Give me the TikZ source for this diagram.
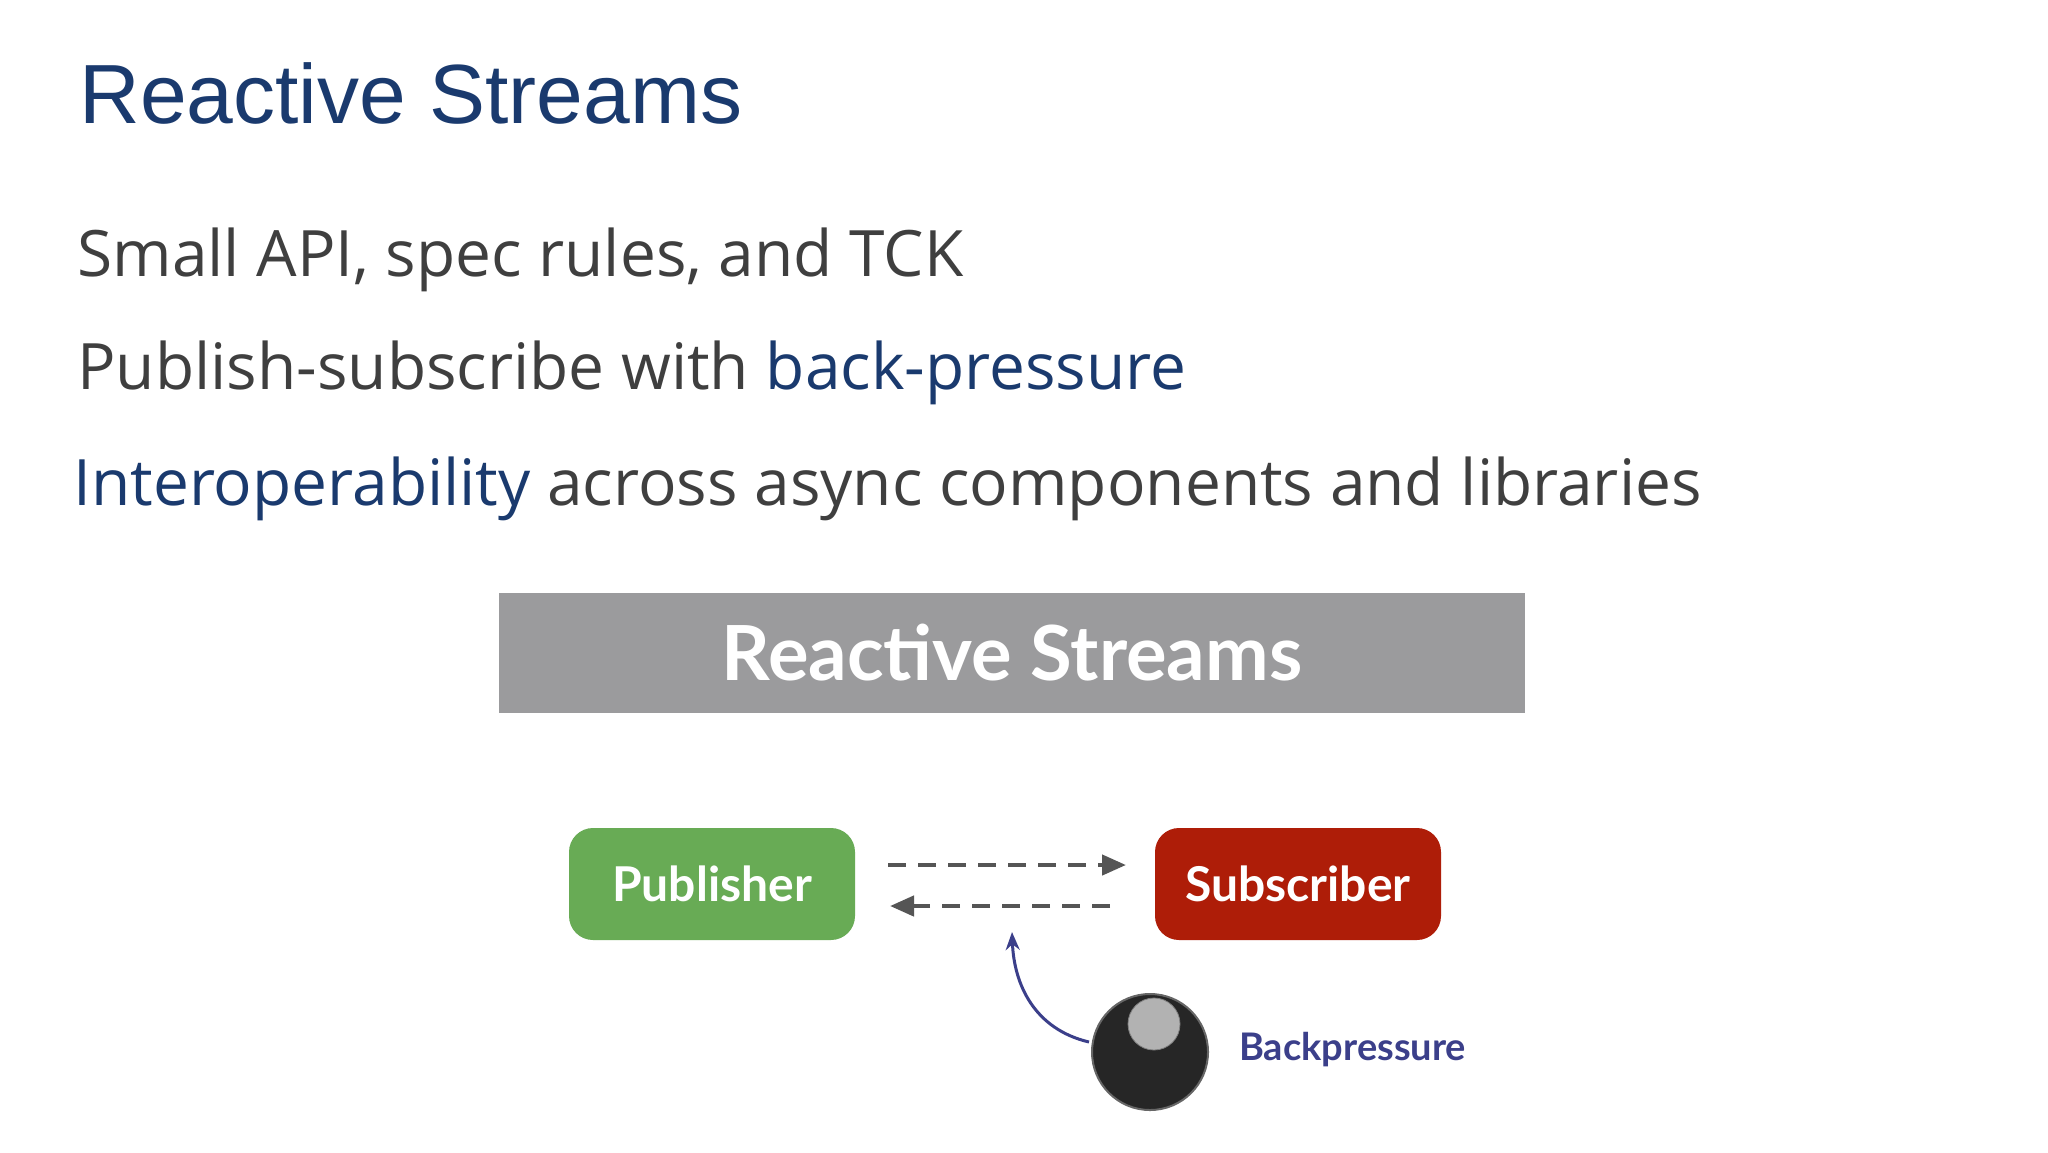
\documentclass[tikz,border=0pt]{standalone}
\usepackage{fontspec}
\setmainfont{Liberation Sans}
\newfontfamily\bodyf{Open Sans}
\newfontfamily\diagf{Lato}
\usetikzlibrary{arrows.meta}
\definecolor{navy}{HTML}{1A3A6E}
\definecolor{bodygray}{HTML}{3F3F3F}
\definecolor{pubgreen}{HTML}{68AB55}
\definecolor{subred}{HTML}{AE1D08}
\definecolor{bargray}{HTML}{9B9B9D}
\definecolor{arrgray}{HTML}{555555}
\definecolor{bpblue}{HTML}{3B3F8A}
\tikzset{
 boxst/.style={rounded corners=12pt, minimum width=143pt, minimum height=56pt, text=white, font=\diagf\bfseries\fontsize{24}{27}\selectfont},
 bodyline/.style={anchor=base west, text=bodygray, font=\bodyf\fontsize{32}{36}\selectfont, inner sep=0pt},
 dasharr/.style={arrgray, line width=2.2pt, dash pattern=on 9pt off 6pt, -{Triangle[length=12pt,width=10pt]}}
}
\begin{document}
\begin{tikzpicture}[x=0.5pt,y=-0.5pt]
\useasboundingbox[fill=white] (0,0) rectangle (2048,1152);
\node[anchor=base west, inner sep=0pt, text=navy, font=\fontsize{42}{46}\selectfont] (title) at (79,123) {Reactive Streams};
\node[bodyline] (l1) at (77,276) {Small API, spec rules, and TCK};
\node[bodyline] (l2) at (77,389) {Publish-subscribe with \textcolor{navy}{back-pressure}};
\node[bodyline] (l3) at (73,505) {\textcolor{navy}{Interoperability} across async components and libraries};
\node[fill=bargray, minimum width=513pt, minimum height=60pt, inner sep=0pt, text=white, font=\diagf\bfseries\fontsize{38}{40}\selectfont] (bar) at (1012,653) {Reactive Streams};
\node[boxst, fill=pubgreen] (pub) at (712,884) {Publisher};
\node[boxst, fill=subred] (sub) at (1298,884) {Subscriber};
\coordinate (a1s) at (888,865); \coordinate (a1e) at (1126,865);
\coordinate (a2s) at (1110,906); \coordinate (a2e) at (890,906);
\draw[dasharr] (a1s) -- (a1e);
\draw[dasharr] (a2s) -- (a2e);
\node[circle, inner sep=0pt, minimum size=58pt, fill=black!85, draw=black!60, line width=1pt] (knob) at (1150,1052) {};
\node[circle, inner sep=0pt, minimum size=26pt, fill=black!30, draw=black!50] (cap) at (1154,1024) {};
\node[anchor=west, text=bpblue, font=\diagf\bfseries\fontsize{19}{22}\selectfont] (bp) at (1232,1050) {Backpressure};
\coordinate (ctip) at (1012,932);
\draw[bpblue, line width=1.5pt, -{Stealth[length=9pt,width=7pt]}] (knob.west) ++(-2,-10) .. controls (1034,1029) and (1014,984) .. (ctip);
\end{tikzpicture}
\end{document}
